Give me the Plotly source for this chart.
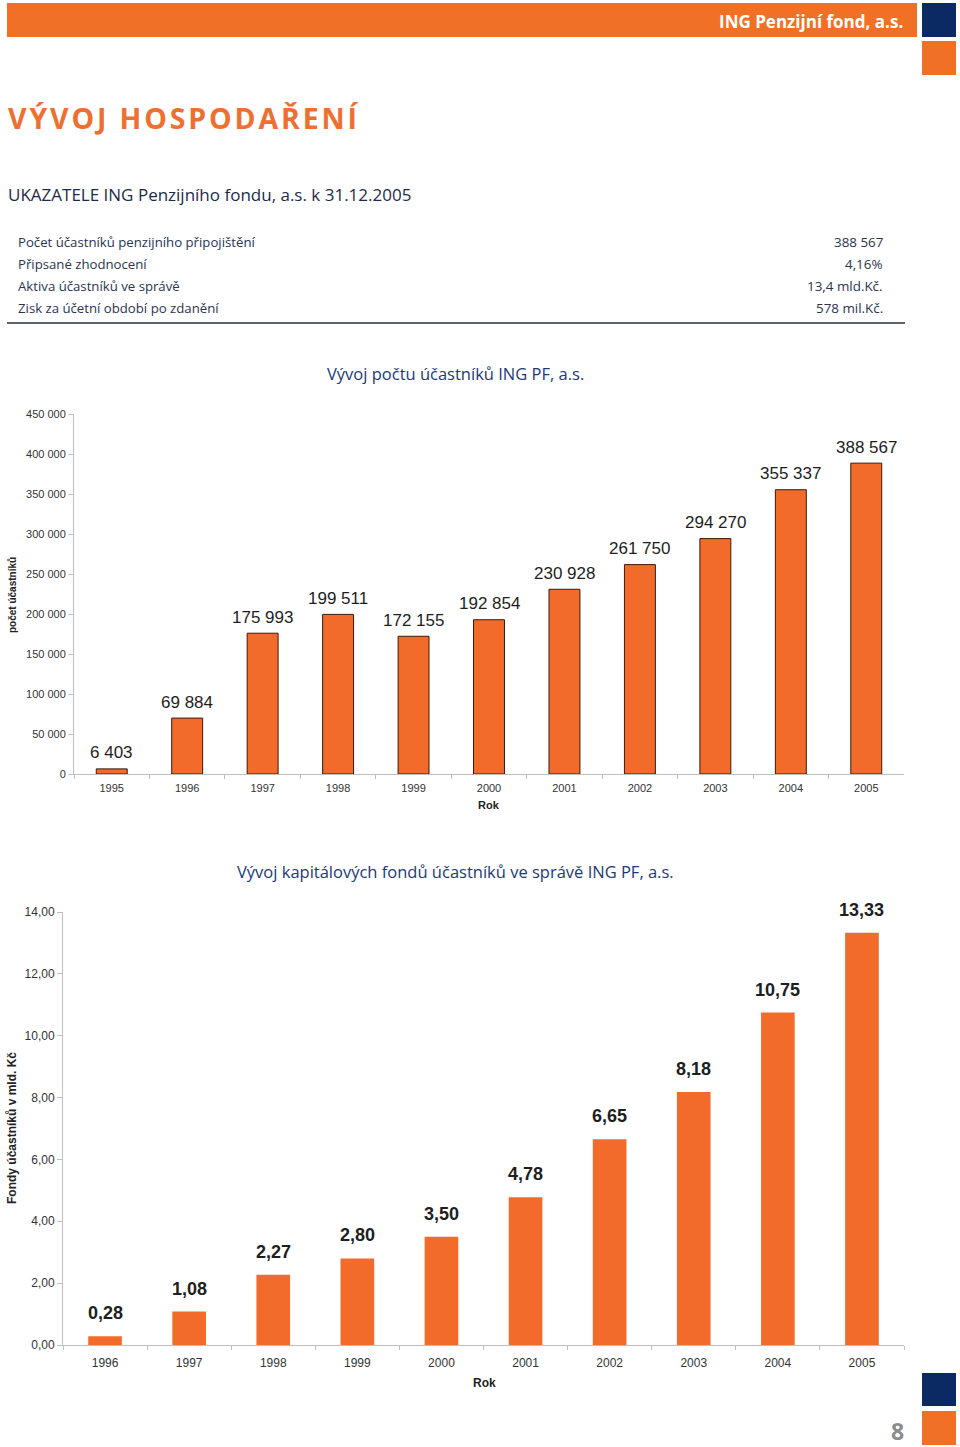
import plotly.graph_objects as go

# ---- data ----
years_1 = ["1995", "1996", "1997", "1998", "1999", "2000", "2001", "2002", "2003", "2004", "2005"]
participants = [6403, 69884, 175993, 199511, 172155, 192854, 230928, 261750, 294270, 355337, 388567]

years_2 = ["1996", "1997", "1998", "1999", "2000", "2001", "2002", "2003", "2004", "2005"]
funds_bn = [0.28, 1.08, 2.27, 2.80, 3.50, 4.78, 6.65, 8.18, 10.75, 13.33]

table_labels = ["Počet účastníků penzijního připojištění", "Připsané zhodnocení",
                "Aktiva účastníků ve správě", "Zisk za účetní období po zdanění"]
table_values = ["388 567", "4,16%", "13,4 mld.Kč.", "578 mil.Kč."]

y1_ticks = [0, 50000, 100000, 150000, 200000, 250000, 300000, 350000, 400000, 450000]
y2_ticks = [0, 2, 4, 6, 8, 10, 12, 14]

W, H = 960, 1447
ORANGE = "#F26B2A"
NAVY = "#0B2A63"
TXT = "#2A3550"

def px(x):
    return x / W

def py(y):
    return 1 - y / H

fig = go.Figure()

fig.add_trace(go.Bar(x=years_1, y=participants, xaxis="x", yaxis="y",
                     marker=dict(color=ORANGE, line=dict(color="#3A1A0A", width=1)),
                     width=0.41, showlegend=False, hoverinfo="x+y"))
fig.add_trace(go.Bar(x=years_2, y=funds_bn, xaxis="x2", yaxis="y2",
                     marker=dict(color=ORANGE, line=dict(width=0)),
                     width=0.40, showlegend=False, hoverinfo="x+y"))

ann = []
for i, yv in enumerate(participants):
    ann.append(dict(x=i, y=yv, xref="x", yref="y", text=f"{yv:,}".replace(",", " "),
                    showarrow=False, yshift=16, font=dict(family="Liberation Sans, Arial", size=17, color="#1E1E1E")))
for i, yv in enumerate(funds_bn):
    ann.append(dict(x=i, y=yv, xref="x2", yref="y2", text=f"<b>{yv:.2f}</b>".replace(".", ","),
                    showarrow=False, yshift=23, font=dict(family="Liberation Sans, Arial", size=18, color="#1E1E1E")))

# page texts
ann.append(dict(x=px(905), y=py(21), xref="paper", yref="paper", xanchor="right", yanchor="middle",
                text="<b>ING Penzijní fond, a.s.</b>", showarrow=False,
                font=dict(family="Open Sans", size=17, color="white")))
title = "\u200a".join(list("VÝVOJ HOSPODAŘENÍ"))
ann.append(dict(x=px(6), y=py(118), xref="paper", yref="paper", xanchor="left", yanchor="middle",
                text=f"<b>{title}</b>", showarrow=False,
                font=dict(family="Open Sans", size=28.5, color="#EE7031")))
ann.append(dict(x=px(6), y=py(195), xref="paper", yref="paper", xanchor="left", yanchor="middle",
                text="UKAZATELE ING Penzijního fondu, a.s. k 31.12.2005", showarrow=False,
                font=dict(family="Open Sans", size=17, color="#1C2B4A")))
for i, (lab, val) in enumerate(zip(table_labels, table_values)):
    yy = 242 + 22 * i
    ann.append(dict(x=px(16), y=py(yy), xref="paper", yref="paper", xanchor="left", yanchor="middle",
                    text=lab, showarrow=False, font=dict(family="Open Sans", size=13.2, color=TXT)))
    ann.append(dict(x=px(885), y=py(yy), xref="paper", yref="paper", xanchor="right", yanchor="middle",
                    text=val, showarrow=False, font=dict(family="Open Sans", size=13.4, color=TXT)))

ann.append(dict(x=px(455), y=py(373), xref="paper", yref="paper", xanchor="center", yanchor="middle",
                text="Vývoj počtu účastníků ING PF, a.s.", showarrow=False,
                font=dict(family="Open Sans", size=16.5, color="#1C3A78")))
ann.append(dict(x=px(455), y=py(872), xref="paper", yref="paper", xanchor="center", yanchor="middle",
                text="Vývoj kapitálových fondů účastníků ve správě ING PF, a.s.", showarrow=False,
                font=dict(family="Open Sans", size=16.5, color="#1C3A78")))
ann.append(dict(x=px(489), y=py(805), xref="paper", yref="paper", xanchor="center", yanchor="middle",
                text="<b>Rok</b>", showarrow=False, font=dict(family="Liberation Sans, Arial", size=11, color="#222")))
ann.append(dict(x=px(484), y=py(1383), xref="paper", yref="paper", xanchor="center", yanchor="middle",
                text="<b>Rok</b>", showarrow=False, font=dict(family="Liberation Sans, Arial", size=12, color="#222")))
ann.append(dict(x=px(12), y=py(595), xref="paper", yref="paper", xanchor="center", yanchor="middle",
                text="<b>počet účastníků</b>", textangle=-90, showarrow=False,
                font=dict(family="Liberation Sans, Arial", size=10, color="#222")))
ann.append(dict(x=px(12), y=py(1128), xref="paper", yref="paper", xanchor="center", yanchor="middle",
                text="<b>Fondy účastníků v mld. Kč</b>", textangle=-90, showarrow=False,
                font=dict(family="Liberation Sans, Arial", size=12, color="#222")))
ann.append(dict(x=px(897), y=py(1431), xref="paper", yref="paper", xanchor="center", yanchor="middle",
                text="<b>8</b>", showarrow=False, font=dict(family="Open Sans", size=23, color="#8C8C8C")))

def rect(x0, y0, x1, y1, color):
    return dict(type="rect", xref="paper", yref="paper", x0=px(x0), x1=px(x1), y0=py(y1), y1=py(y0),
                fillcolor=color, line=dict(width=0), layer="below")

shapes = [
    rect(7, 3, 917, 37, "#F07126"),
    rect(922, 3, 956, 37, NAVY),
    rect(922, 41, 956, 75, "#F07126"),
    rect(922, 1373, 956, 1406, NAVY),
    rect(922, 1411, 956, 1445, "#F07126"),
    dict(type="line", xref="paper", yref="paper", x0=px(7), x1=px(905), y0=py(323), y1=py(323),
         line=dict(color="#5A6470", width=2)),
]

axis_font = dict(family="Liberation Sans, Arial", size=11, color="#333")
fig.update_layout(
    width=W, height=H, margin=dict(l=0, r=0, t=0, b=0, autoexpand=False),
    paper_bgcolor="white", plot_bgcolor="white",
    separators=", ",
    annotations=ann, shapes=shapes,
    xaxis=dict(domain=[px(74), px(904)], anchor="y", type="category", range=[-0.5, 10.5],
               showgrid=False, automargin=False, tickangle=0, ticklabelstandoff=4,
               showline=True, linecolor="#BFBFBF", linewidth=1, ticks="outside", tickson="boundaries",
               ticklen=4, tickcolor="#BFBFBF", tickfont=axis_font, fixedrange=True),
    yaxis=dict(domain=[py(774), py(414)], anchor="x", range=[0, 450000], tickvals=y1_ticks,
               automargin=False,
               tickformat=",d", showgrid=False, zeroline=False, showline=True, linecolor="#BFBFBF",
               ticks="outside", ticklen=5, tickcolor="#BFBFBF", tickfont=axis_font),
    xaxis2=dict(domain=[px(63), px(904)], anchor="y2", type="category", range=[-0.5, 9.5],
                showgrid=False, automargin=False, tickangle=0, ticklabelstandoff=7,
                showline=True, linecolor="#BFBFBF", linewidth=1, ticks="outside", tickson="boundaries",
                ticklen=4, tickcolor="#BFBFBF", tickfont=dict(family="Liberation Sans, Arial", size=12, color="#333")),
    yaxis2=dict(domain=[py(1345), py(912)], anchor="x2", range=[0, 14], tickvals=y2_ticks,
                automargin=False,
                tickformat=".2f", showgrid=False, zeroline=False, showline=True, linecolor="#BFBFBF",
                ticks="outside", ticklen=5, tickcolor="#BFBFBF",
                tickfont=dict(family="Liberation Sans, Arial", size=12, color="#333")),
)

fig.write_html("out.html", config={"displayModeBar": False},
               post_script="document.body.style.margin='0';document.body.style.padding='0';")
